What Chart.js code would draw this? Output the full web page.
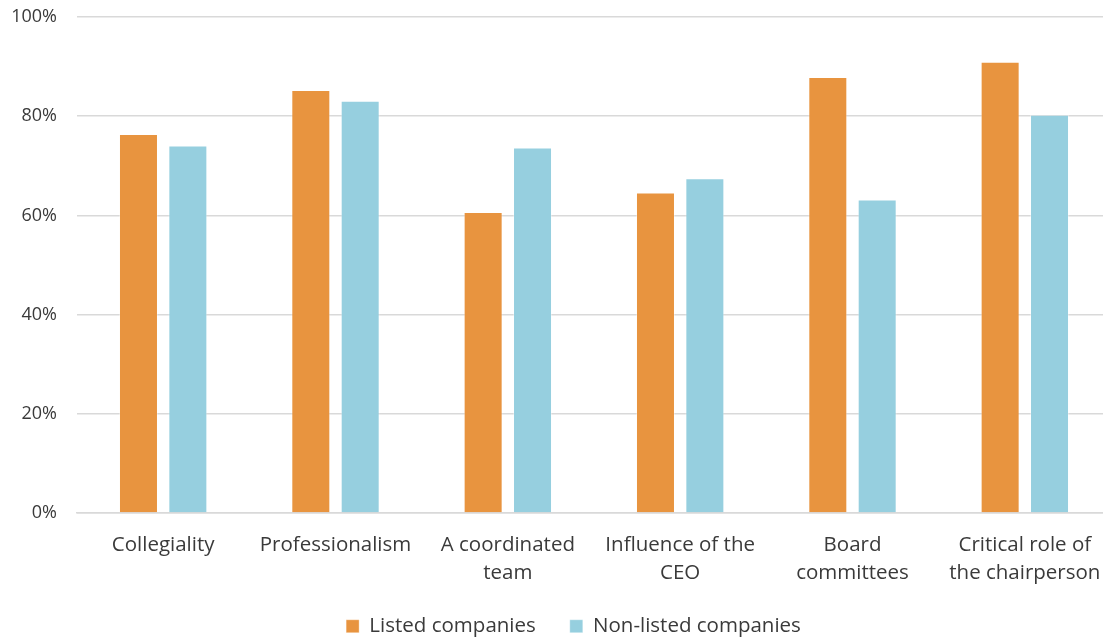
<!DOCTYPE html>
<html>
<head>
<meta charset="utf-8">
<script src="https://cdn.jsdelivr.net/npm/chart.js@4.4.1/dist/chart.umd.min.js"></script>
<style>
  html, body { margin: 0; padding: 0; background: #fff; overflow: hidden; }
  #wrap { width: 1103px; height: 639px; overflow: hidden; }
  #box { width: 1112px; height: 639px; }
</style>
</head>
<body>
<div id="wrap"><div id="box"><canvas id="boardChart"></canvas></div></div>
<script>
const categories = [
  'Collegiality',
  'Professionalism',
  ['A coordinated', 'team'],
  ['Influence of the', 'CEO'],
  ['Board', 'committees'],
  ['Critical role of', 'the chairperson']
];
const listed = [76.4, 85.3, 60.7, 64.6, 87.9, 91.0];
const nonListed = [74.1, 83.1, 73.7, 67.5, 63.2, 80.3];
const yTicks = [0, 20, 40, 60, 80, 100];

const textColor = '#3a3a3a';
const fontFamily = "'Open Sans', sans-serif";

// nudge the legend into place after the boxes are laid out
// (only the top moves up, so its clip box still reaches the canvas bottom)
const legendShift = {
  id: 'legendShift',
  afterLayout(chart) {
    const lg = chart.legend;
    lg.left += 18;
    lg.right += 18;
    lg.top -= 11;
  }
};

new Chart(document.getElementById('boardChart'), {
  type: 'bar',
  data: {
    labels: categories,
    datasets: [
      { label: 'Listed companies', data: listed, backgroundColor: '#E8943F',
        borderColor: 'rgba(255,255,255,0.35)', borderWidth: 1 },
      { label: 'Non-listed companies', data: nonListed, backgroundColor: '#96CFDF',
        borderColor: 'rgba(255,255,255,0.35)', borderWidth: 1 }
    ]
  },
  options: {
    responsive: true,
    maintainAspectRatio: false,
    animation: false,
    categoryPercentage: 0.573,
    barPercentage: 0.79,
    layout: { padding: { top: 17, right: 1, bottom: 0, left: 0 } },
    plugins: {
      tooltip: { enabled: false },
      legend: {
        position: 'bottom',
        maxHeight: 46,
        labels: {
          boxWidth: 13,
          boxHeight: 13,
          padding: 34,
          color: textColor,
          font: { family: fontFamily, size: 20.5 }
        }
      }
    },
    scales: {
      x: {
        grid: { display: false },
        border: { display: true, color: '#d9d9d9', width: 1.5 },
        ticks: {
          color: textColor,
          padding: 10,
          maxRotation: 0,
          autoSkip: false,
          font: { family: fontFamily, size: 20.5, lineHeight: 1.37 }
        },
        afterFit(axis) { axis.height = 80; }
      },
      y: {
        min: 0,
        max: 100,
        afterBuildTicks(axis) { axis.ticks = yTicks.map(v => ({ value: v })); },
        grid: { color: '#d9d9d9', lineWidth: 1.5, drawTicks: false },
        border: { display: false },
        ticks: {
          color: textColor,
          padding: 20,
          font: { family: fontFamily, size: 18 },
          callback: v => v + '%'
        },
        afterFit(axis) {
          axis.width = 77;
          axis.paddingTop = 0;
          axis.paddingBottom = 0;
        }
      }
    }
  },
  plugins: [legendShift]
});
</script>
</body>
</html>
